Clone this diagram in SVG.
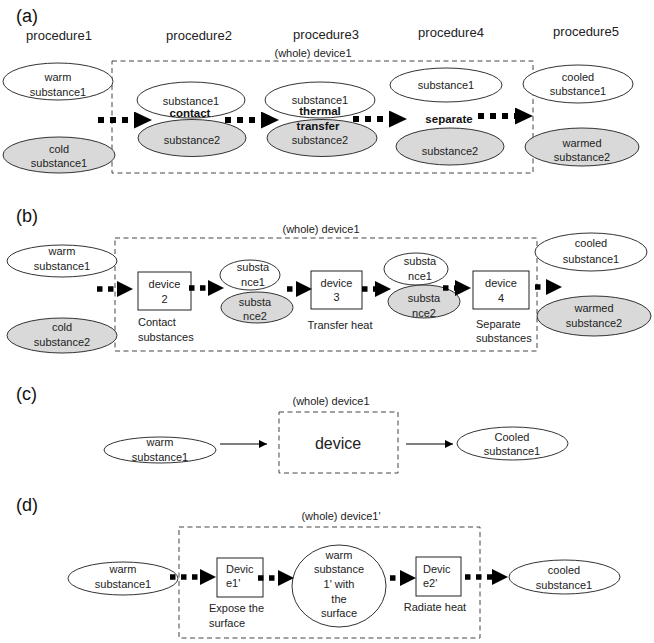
<svg xmlns="http://www.w3.org/2000/svg" width="654" height="643" viewBox="0 0 654 643">
<style>
text{font-family:"Liberation Sans",Arial,sans-serif;font-size:11px;fill:#222;text-anchor:middle}
.s{text-anchor:start}
.lbl{font-size:18px;text-anchor:start;fill:#111}
.pr{font-size:13px}
.b{font-weight:bold;font-size:11.5px;fill:#111}
.w{fill:#fff;stroke:#333;stroke-width:1}
.g{fill:#d9d9d9;stroke:#333;stroke-width:1}
.bx{fill:#fff;stroke:#222;stroke-width:1}
.dash{fill:none;stroke:#444;stroke-width:1;stroke-dasharray:5 3.5}
.dot{stroke:#000;stroke-width:6;stroke-dasharray:6 6;marker-end:url(#h)}
.dot5{stroke:#000;stroke-width:5.5;stroke-dasharray:5.5 5.5;marker-end:url(#h2)}
.thin{stroke:#000;stroke-width:1.2;marker-end:url(#t)}
</style>
<defs>
<marker id="h" markerUnits="userSpaceOnUse" markerWidth="19" markerHeight="18" refX="0" refY="8.5" orient="auto"><path d="M0,0 L18,8.5 L0,17 z" fill="#000"/></marker>
<marker id="h2" markerUnits="userSpaceOnUse" markerWidth="17" markerHeight="17" refX="0" refY="8" orient="auto"><path d="M0,0 L16,8 L0,16 z" fill="#000"/></marker>
<marker id="t" markerUnits="userSpaceOnUse" markerWidth="9" markerHeight="8" refX="8" refY="4" orient="auto"><path d="M0,0 L8,4 L0,8 z" fill="#000"/></marker>
</defs>

<!-- (a) -->
<g id="a-labels">
<text class="lbl" x="16" y="22">(a)</text>
<text class="pr" x="59" y="40">procedure1</text>
<text class="pr" x="199" y="40">procedure2</text>
<text class="pr" x="326" y="39">procedure3</text>
<text class="pr" x="451" y="37">procedure4</text>
<text class="pr" x="586" y="36">procedure5</text>
</g>
<g id="a-device1">
<rect class="dash" x="112" y="61" width="421" height="112"/>
<text x="313" y="57">(whole) device1</text>
</g>
<g id="a-warm1"><ellipse class="w" cx="58" cy="81.5" rx="55" ry="18.5"/><text x="58" y="81">warm</text><text x="58" y="96">substance1</text></g>
<g id="a-cold1"><ellipse class="g" cx="59" cy="155" rx="56" ry="18"/><text x="59" y="153">cold</text><text x="59" y="167">substance1</text></g>
<g id="a-p2s1"><ellipse class="w" cx="191" cy="100" rx="54" ry="18"/><text x="191" y="105">substance1</text></g>
<g id="a-p2s2"><ellipse class="g" cx="192" cy="138" rx="54" ry="18.5"/><text x="192" y="144">substance2</text></g>
<g id="a-contact"><text class="b" x="190" y="117">contact</text></g>
<g id="a-p3s1"><ellipse class="w" cx="320" cy="100" rx="55" ry="18"/><text x="320" y="104">substance1</text></g>
<g id="a-p3s2"><ellipse class="g" cx="322" cy="138" rx="55" ry="18.5"/><text x="320" y="143.5">substance2</text></g>
<g id="a-thermal"><text class="b" x="320" y="115">thermal</text><text class="b" x="318" y="130">transfer</text></g>
<g id="a-p4s1"><ellipse class="w" cx="446" cy="85" rx="56" ry="17"/><text x="446" y="89">substance1</text></g>
<g id="a-separate"><text class="b" x="449" y="123">separate</text></g>
<g id="a-p4s2"><ellipse class="g" cx="450" cy="146.5" rx="54" ry="18.5"/><text x="450" y="155">substance2</text></g>
<g id="a-cooled1"><ellipse class="w" cx="578" cy="84" rx="55" ry="19"/><text x="578" y="81">cooled</text><text x="578" y="95">substance1</text></g>
<g id="a-warmed2"><ellipse class="g" cx="582" cy="147" rx="57" ry="19"/><text x="582" y="147">warmed</text><text x="582" y="161">substance2</text></g>

<!-- (b) -->
<g id="b-labels"><text class="lbl" x="16" y="222">(b)</text></g>
<g id="b-device1">
<rect class="dash" x="115" y="238" width="422" height="113"/>
<text x="321" y="233">(whole) device1</text>
</g>
<g id="b-warm1"><ellipse class="w" cx="62" cy="261" rx="55" ry="16"/><text x="62" y="255">warm</text><text x="62" y="270">substance1</text></g>
<g id="b-cold2"><ellipse class="g" cx="62" cy="335.5" rx="55" ry="17.5"/><text x="62" y="331">cold</text><text x="62" y="346">substance2</text></g>
<g id="b-device2"><rect class="bx" x="138" y="272" width="53" height="38"/><text x="164.5" y="288">device</text><text x="164.5" y="303">2</text><text class="s" x="138" y="326">Contact</text><text class="s" x="138" y="341">substances</text></g>
<g id="b-s1a"><ellipse class="w" cx="250" cy="275" rx="30" ry="15"/><text x="253" y="271">substa</text><text x="253" y="286">nce1</text></g>
<g id="b-s2a"><ellipse class="g" cx="257" cy="307.5" rx="36" ry="15.5"/><text x="255" y="306">substa</text><text x="255" y="320">nce2</text></g>
<g id="b-device3"><rect class="bx" x="311" y="271" width="51" height="38"/><text x="336.5" y="287">device</text><text x="336.5" y="301">3</text><text x="340" y="329">Transfer heat</text></g>
<g id="b-s1b"><ellipse class="w" cx="416" cy="269" rx="32" ry="16"/><text x="420" y="265">substa</text><text x="420" y="280">nce1</text></g>
<g id="b-s2b"><ellipse class="g" cx="424" cy="301.5" rx="36" ry="16.5"/><text x="424" y="302">substa</text><text x="424" y="317">nce2</text></g>
<g id="b-device4"><rect class="bx" x="473" y="271" width="56" height="38"/><text x="501" y="287">device</text><text x="501" y="302">4</text><text class="s" x="476" y="328">Separate</text><text class="s" x="476" y="342">substances</text></g>
<g id="b-cooled1"><ellipse class="w" cx="591" cy="252" rx="56" ry="19"/><text x="591" y="247">cooled</text><text x="591" y="263">substance1</text></g>
<g id="b-warmed2"><ellipse class="g" cx="594" cy="316" rx="57" ry="20"/><text x="594" y="312">warmed</text><text x="594" y="327">substance2</text></g>

<!-- (c) -->
<g id="c-labels"><text class="lbl" x="16" y="400">(c)</text></g>
<g id="c-device">
<rect class="dash" x="279" y="412" width="119" height="61"/>
<text x="331" y="405">(whole) device1</text>
<text x="338" y="449" style="font-size:16px">device</text>
</g>
<g id="c-warm1"><ellipse class="w" cx="160" cy="450" rx="56" ry="13"/><text x="160" y="446">warm</text><text x="160" y="461">substance1</text></g>
<g id="c-cooled1"><ellipse class="w" cx="512.5" cy="443.5" rx="55.5" ry="16.5"/><text x="512" y="441">Cooled</text><text x="512" y="455">substance1</text></g>

<!-- (d) -->
<g id="d-labels"><text class="lbl" x="16" y="511">(d)</text></g>
<g id="d-device1">
<rect class="dash" x="179" y="527" width="301" height="111"/>
<text x="341" y="520">(whole) device1'</text>
</g>
<g id="d-warm1"><ellipse class="w" cx="123" cy="578.5" rx="55" ry="16.5"/><text x="123" y="573">warm</text><text x="123" y="588">substance1</text></g>
<g id="d-device1p"><rect class="bx" x="217" y="558" width="46" height="39"/><text class="s" x="226" y="573">Devic</text><text class="s" x="226" y="587">e1'</text><text class="s" x="209" y="612">Expose the</text><text class="s" x="209" y="627">surface</text></g>
<g id="d-surface"><ellipse class="w" cx="339" cy="586" rx="47" ry="41"/><text x="339" y="559">warm</text><text x="339" y="573">substance</text><text x="339" y="588">1' with</text><text x="339" y="603">the</text><text x="339" y="617">surface</text></g>
<g id="d-device2p"><rect class="bx" x="416" y="557" width="45" height="39"/><text class="s" x="423" y="573">Devic</text><text class="s" x="423" y="587">e2'</text><text x="435" y="611">Radiate heat</text></g>
<g id="d-cooled1"><ellipse class="w" cx="564.5" cy="577" rx="55.5" ry="17"/><text x="564" y="574">cooled</text><text x="564" y="589">substance1</text></g>

<g id="connectors">
<line class="dot" x1="98" y1="120" x2="134" y2="120"/>
<line class="dot" x1="225" y1="120" x2="261" y2="120"/>
<line class="dot" x1="353" y1="119" x2="389" y2="119"/>
<line class="dot" x1="478" y1="116" x2="515" y2="116"/>
<line class="dot5" x1="97" y1="289" x2="117" y2="289"/>
<line class="dot5" x1="189" y1="288" x2="208" y2="288"/>
<line class="dot5" x1="287" y1="289" x2="296" y2="289"/>
<line class="dot5" x1="362" y1="289" x2="375" y2="289"/>
<line class="dot5" x1="443" y1="288" x2="455" y2="288"/>
<line class="dot5" x1="535" y1="287" x2="546" y2="287"/>
<line class="thin" x1="220" y1="444" x2="267" y2="444"/>
<line class="thin" x1="406" y1="444" x2="453" y2="444"/>
<line class="dot5" x1="170" y1="577" x2="200" y2="577"/>
<line class="dot5" x1="258" y1="578" x2="278" y2="578"/>
<line class="dot5" x1="390" y1="578" x2="400" y2="578"/>
<line class="dot5" x1="465" y1="577" x2="492" y2="577"/>
</g>
</svg>
